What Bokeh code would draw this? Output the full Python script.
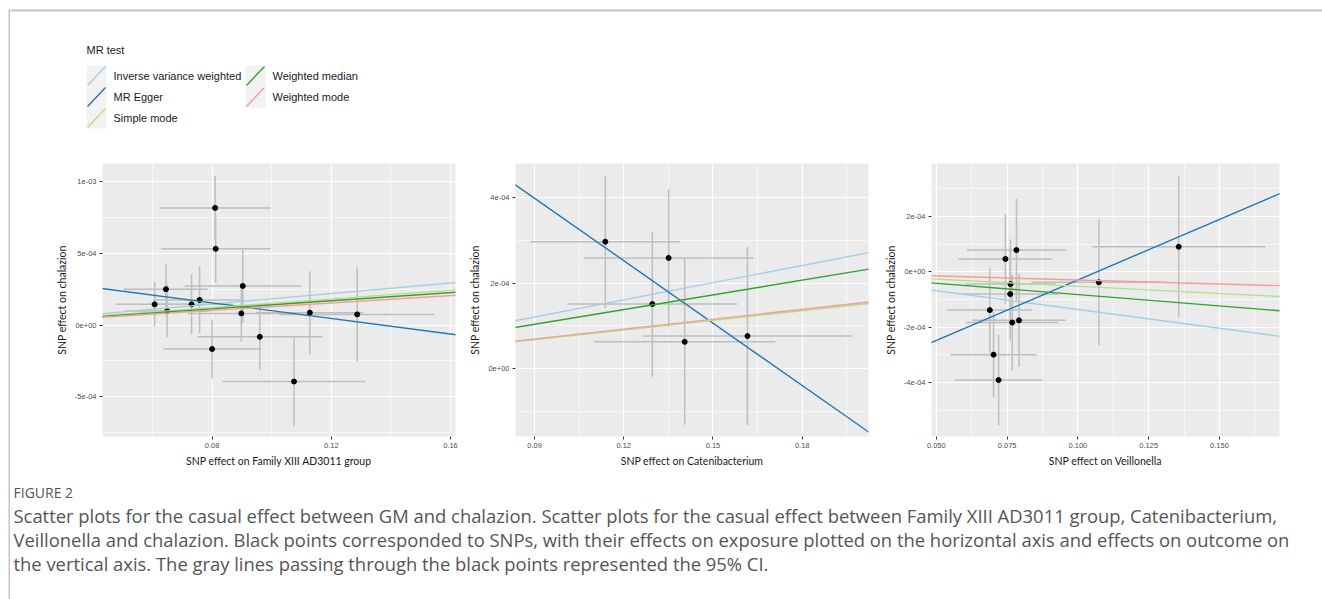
from bokeh.plotting import figure
from bokeh.layouts import row, column
from bokeh.models import Range1d, FixedTicker, Slope, Spacer, ColumnDataSource, CustomJSTickFormatter
from bokeh.core.properties import value
from bokeh.embed import file_html
from bokeh.resources import INLINE

# ---------------- data ----------------
methods = ["Inverse variance weighted", "MR Egger", "Simple mode", "Weighted median", "Weighted mode"]
legend_col1 = ["Inverse variance weighted", "MR Egger", "Simple mode"]
legend_col2 = ["Weighted median", "Weighted mode"]
legend_title = "MR test"
outcome_label = "SNP effect on chalazion"

# Panel 1: Family XIII AD3011 group
fam_title = "SNP effect on Family XIII AD3011 group"
fam_beta_exp = [0.0607, 0.0645, 0.0649, 0.0731, 0.0758, 0.0810, 0.0812, 0.0903, 0.0898, 0.0800, 0.0960, 0.1075, 0.1128, 0.1287]
fam_beta_out = [1.45e-4, 2.51e-4, 0.98e-4, 1.45e-4, 1.76e-4, 8.19e-4, 5.33e-4, 2.74e-4, 0.82e-4, -1.67e-4, -0.82e-4, -3.94e-4, 0.87e-4, 0.75e-4]
fam_ci_exp = [0.0130, 0.0142, 0.0140, 0.0140, 0.0150, 0.0186, 0.0184, 0.0196, 0.0179, 0.0164, 0.0210, 0.0240, 0.0180, 0.0260]
fam_ci_out = [1.57e-4, 1.80e-4, 1.85e-4, 2.10e-4, 2.35e-4, 2.23e-4, 2.35e-4, 2.58e-4, 1.97e-4, 2.07e-4, 2.30e-4, 3.10e-4, 2.90e-4, 3.30e-4]
fam_slope = [1.84e-3, -2.72e-3, 1.52e-3, 1.42e-3, 1.29e-3]
fam_intercept = [0.0, 3.73e-4, 0.0, 0.0, 0.0]
fam_xlim = (0.0432, 0.1617)
fam_ylim = (-7.78e-4, 1.129e-3)
fam_xticks = [0.08, 0.12, 0.16]
fam_xlabels = ["0.08", "0.12", "0.16"]
fam_yticks = [-5e-4, 0.0, 5e-4, 1e-3]
fam_ylabels = ["-5e-04", "0e+00", "5e-04", "1e-03"]

# Panel 2: Catenibacterium
cat_title = "SNP effect on Catenibacterium"
cat_beta_exp = [0.1138, 0.1351, 0.1296, 0.1405, 0.1616]
cat_beta_out = [2.97e-4, 2.59e-4, 1.51e-4, 0.625e-4, 0.76e-4]
cat_ci_exp = [0.0252, 0.0285, 0.0285, 0.0305, 0.0352]
cat_ci_out = [1.55e-4, 1.61e-4, 1.70e-4, 1.94e-4, 2.08e-4]
cat_slope = [1.34e-3, -4.87e-3, 0.753e-3, 1.15e-3, 0.77e-3]
cat_intercept = [0.0, 8.37e-4, 0.0, 0.0, 0.0]
cat_xlim = (0.0836, 0.2023)
cat_ylim = (-1.59e-4, 4.80e-4)
cat_xticks = [0.09, 0.12, 0.15, 0.18]
cat_xlabels = ["0.09", "0.12", "0.15", "0.18"]
cat_yticks = [0.0, 2e-4, 4e-4]
cat_ylabels = ["0e+00", "2e-04", "4e-04"]

# Panel 3: Veillonella
vei_title = "SNP effect on Veillonella"
vei_beta_exp = [0.0783, 0.0744, 0.0762, 0.0761, 0.0689, 0.0768, 0.0792, 0.0702, 0.0720, 0.1074, 0.1356]
vei_beta_out = [0.79e-4, 0.47e-4, -0.44e-4, -0.80e-4, -1.38e-4, -1.83e-4, -1.75e-4, -2.99e-4, -3.91e-4, -0.375e-4, 0.91e-4]
vei_ci_exp = [0.0175, 0.0166, 0.0160, 0.0170, 0.0150, 0.0163, 0.0165, 0.0153, 0.0156, 0.0238, 0.0305]
vei_ci_out = [1.85e-4, 1.62e-4, 1.62e-4, 1.67e-4, 1.54e-4, 1.73e-4, 1.69e-4, 1.56e-4, 1.63e-4, 2.27e-4, 2.54e-4]
vei_slope = [-1.36e-3, 4.38e-3, -0.52e-3, -0.82e-3, -0.29e-3]
vei_intercept = [0.0, -4.67e-4, 0.0, 0.0, 0.0]
vei_xlim = (0.0483, 0.1712)
vei_ylim = (-5.95e-4, 3.92e-4)
vei_xticks = [0.05, 0.075, 0.10, 0.125, 0.15]
vei_xlabels = ["0.050", "0.075", "0.100", "0.125", "0.150"]
vei_yticks = [-4e-4, -2e-4, 0.0, 2e-4]
vei_ylabels = ["-4e-04", "-2e-04", "0e+00", "2e-04"]

caption_head = "FIGURE 2"
caption_lines = [
    "Scatter plots for the casual effect between GM and chalazion. Scatter plots for the casual effect between Family XIII AD3011 group, Catenibacterium,",
    "Veillonella and chalazion. Black points corresponded to SNPs, with their effects on exposure plotted on the horizontal axis and effects on outcome on",
    "the vertical axis. The gray lines passing through the black points represented the 95% CI.",
]

# ---------------- styles ----------------
method_colors = {
    "Inverse variance weighted": "#A6CEE3",
    "MR Egger": "#1F78B4",
    "Simple mode": "#B2DF8A",
    "Weighted median": "#33A02C",
    "Weighted mode": "#FB9A99",
}
FRAME_COLOR = "#c4c4c4"
PANEL_BG = "#EBEBEB"
ERR_COLOR = "#BEBEBE"
TOTAL_W = 1322
STRIP_W = 10
BODY_W = TOTAL_W - STRIP_W
HEAD_H = 158
PANEL_H = 314
CAP_H = 127
TOTAL_H = HEAD_H + PANEL_H + CAP_H


def minor_of(ticks):
    step = ticks[1] - ticks[0]
    out = [ticks[0] - step / 2]
    for a, b in zip(ticks[:-1], ticks[1:]):
        out.append((a + b) / 2)
    out.append(ticks[-1] + step / 2)
    return out


def formatter(tick_values, tick_labels):
    return CustomJSTickFormatter(args=dict(tvals=tick_values, tlabs=tick_labels), code="""
        for (let i = 0; i < tvals.length; i++) {
            if (Math.abs(tick - tvals[i]) <= 1e-9 * Math.max(1, Math.abs(tvals[i])) + 1e-12) { return tlabs[i]; }
        }
        return "";
    """)


def make_panel(width, left, right, xlim, ylim, xticks, xlabels, yticks, ylabels,
               bx, by, cx, cy, slopes, intercepts, xtitle):
    p = figure(width=width, height=PANEL_H, x_range=Range1d(*xlim), y_range=Range1d(*ylim),
               toolbar_location=None, output_backend="svg",
               min_border_left=left, min_border_right=right, min_border_top=5, min_border_bottom=36)
    p.background_fill_color = PANEL_BG
    p.border_fill_color = "white"
    p.outline_line_color = None

    p.xaxis.ticker = FixedTicker(ticks=xticks, minor_ticks=minor_of(xticks))
    p.yaxis.ticker = FixedTicker(ticks=yticks, minor_ticks=minor_of(yticks))
    p.xaxis.formatter = formatter(xticks, xlabels)
    p.yaxis.formatter = formatter(yticks, ylabels)
    for ax in (p.xaxis[0], p.yaxis[0]):
        ax.axis_line_color = None
        ax.major_tick_in = 0
        ax.major_tick_out = 3
        ax.major_tick_line_color = "#333333"
        ax.major_tick_line_width = 1
        ax.minor_tick_line_color = None
        ax.major_label_text_font = "Liberation Sans"
        ax.major_label_text_font_size = "7.5px"
        ax.major_label_text_color = "#4D4D4D"
        ax.major_label_standoff = 2
        ax.axis_label_text_font = "Lato"
        ax.axis_label_text_font_size = "10.5px"
        ax.axis_label_text_font_style = "normal"
        ax.axis_label_text_color = "#1a1a1a"
        ax.axis_label_standoff = 4
    p.xaxis.axis_label = xtitle
    p.yaxis.axis_label = outcome_label

    for g in (p.xgrid[0], p.ygrid[0]):
        g.grid_line_color = "white"
        g.grid_line_width = 1.2
        g.minor_grid_line_color = "white"
        g.minor_grid_line_width = 0.6

    src = ColumnDataSource(dict(
        bx=bx, by=by,
        xlo=[a - c for a, c in zip(bx, cx)], xhi=[a + c for a, c in zip(bx, cx)],
        ylo=[a - c for a, c in zip(by, cy)], yhi=[a + c for a, c in zip(by, cy)],
    ))
    p.segment(x0="bx", y0="ylo", x1="bx", y1="yhi", source=src, line_color=ERR_COLOR, line_width=1.5)
    p.segment(x0="xlo", y0="by", x1="xhi", y1="by", source=src, line_color=ERR_COLOR, line_width=1.5)
    p.scatter(x="bx", y="by", source=src, size=5, color="black")

    for m, b, a in zip(methods, slopes, intercepts):
        p.add_layout(Slope(gradient=b, y_intercept=a, line_color=method_colors[m], line_width=1.4))
    return p


p1 = make_panel(456, 92, 11, fam_xlim, fam_ylim, fam_xticks, fam_xlabels, fam_yticks, fam_ylabels,
                fam_beta_exp, fam_beta_out, fam_ci_exp, fam_ci_out, fam_slope, fam_intercept, fam_title)
p2 = make_panel(415, 42, 13, cat_xlim, cat_ylim, cat_xticks, cat_xlabels, cat_yticks, cat_ylabels,
                cat_beta_exp, cat_beta_out, cat_ci_exp, cat_ci_out, cat_slope, cat_intercept, cat_title)
p3 = make_panel(433, 45, 35, vei_xlim, vei_ylim, vei_xticks, vei_xlabels, vei_yticks, vei_ylabels,
                vei_beta_exp, vei_beta_out, vei_ci_exp, vei_ci_out, vei_slope, vei_intercept, vei_title)


def blank(w, h, x0=0):
    f = figure(width=w, height=h, x_range=Range1d(x0, x0 + w), y_range=Range1d(h, 0),
               toolbar_location=None, output_backend="svg", min_border=0,
               x_axis_location=None, y_axis_location=None)
    f.grid.visible = False
    f.outline_line_color = None
    f.background_fill_color = "white"
    f.border_fill_color = "white"
    return f


# ---------------- left frame strip (full height) ----------------
strip = blank(STRIP_W, TOTAL_H)
strip.quad(left=[8], right=[10], top=[9], bottom=[TOTAL_H + 5], fill_color=FRAME_COLOR, line_color=None)

# ---------------- header with legend (page x from STRIP_W) ----------------
head = blank(BODY_W, HEAD_H, x0=STRIP_W)
head.segment(x0=[STRIP_W - 2], y0=[10], x1=[TOTAL_W + 2], y1=[10], line_color=FRAME_COLOR, line_width=2)

head.text(x=[86], y=[49], text=[legend_title], text_font=value("Liberation Sans"),
          text_font_size=value("11px"), text_baseline="middle", text_align="left", text_color="#1a1a1a")

KEY_W, KEY_H, KEY_TOP = 20, 21, 65
for col_x, names in ((86, legend_col1), (245, legend_col2)):
    n = len(names)
    tops = [KEY_TOP + KEY_H * i for i in range(n)]
    head.quad(left=[col_x] * n, right=[col_x + KEY_W] * n, top=tops, bottom=[t + KEY_H for t in tops],
              fill_color="#F2F2F2", line_color=None)
    head.segment(x0=[col_x + 1] * n, y0=[t + KEY_H - 1 for t in tops], x1=[col_x + KEY_W - 1] * n,
                 y1=[t + 1 for t in tops], line_color=[method_colors[m] for m in names], line_width=1.4)
    head.text(x=[col_x + KEY_W + 7] * n, y=[t + KEY_H / 2 for t in tops], text=names,
              text_font=value("Liberation Sans"), text_font_size=value("11px"),
              text_baseline="middle", text_align="left", text_color="#1a1a1a")

# ---------------- caption ----------------
cap = blank(BODY_W, CAP_H, x0=STRIP_W)
cap.text(x=[13], y=[20], text=[caption_head], text_font=value("Open Sans"), text_font_size=value("14px"),
         text_baseline="middle", text_align="left", text_color="#555555")
cap.text(x=[13] * len(caption_lines), y=[43 + 24 * i for i in range(len(caption_lines))], text=caption_lines,
         text_font=value("Open Sans"), text_font_size=value("18.4px"),
         text_baseline="middle", text_align="left", text_color="#555555")

pad_r = Spacer(width=8, height=PANEL_H)
panels = row(p1, p2, p3, pad_r, spacing=0)
body = column(head, panels, cap, spacing=0)
layout = row(strip, body, spacing=0)

open("out.html", "w").write(file_html(layout, INLINE))
